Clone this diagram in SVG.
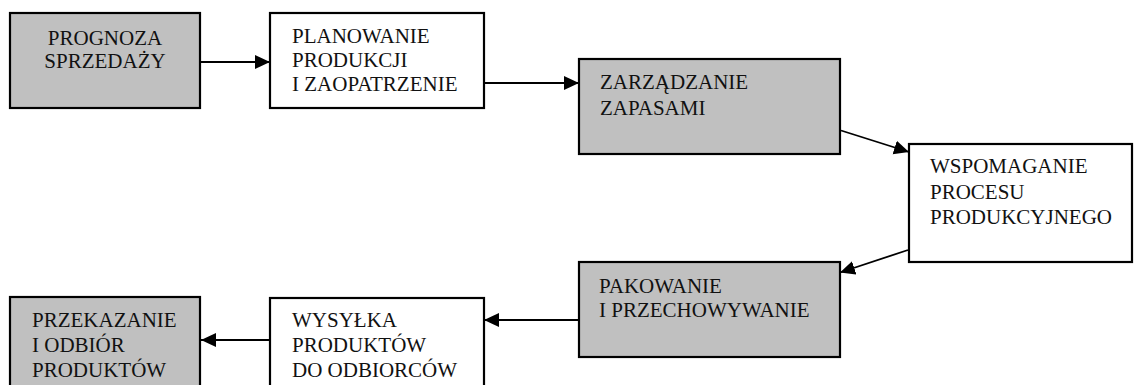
<svg xmlns="http://www.w3.org/2000/svg" width="1135" height="385" viewBox="0 0 1135 385" font-family="'Liberation Serif', 'Times New Roman', serif">
  <style>
    .box { stroke: #000; stroke-width: 2.2; }
    .gray { fill: #c0c0c0; }
    .white { fill: #fff; }
    text { font-family: 'Liberation Serif', 'Times New Roman', serif; font-size: 21px; fill: #111; }
    .conn { stroke: #000; stroke-width: 1.8; fill: none; marker-end: url(#arr); }
  </style>
  <defs>
    <marker id="arr" markerUnits="userSpaceOnUse" markerWidth="16" markerHeight="16" refX="15" refY="8" orient="auto">
      <path d="M0,1 L15,8 L0,15 Z" fill="#000"/>
    </marker>
  </defs>
  <rect width="1135" height="385" fill="#fff"/>

  <g id="connectors">
    <line class="conn" x1="201" y1="62" x2="270" y2="62"/>
    <line class="conn" x1="485" y1="83" x2="579" y2="83"/>
    <line class="conn" x1="841" y1="130.5" x2="909" y2="152"/>
    <line class="conn" x1="908" y1="250" x2="840" y2="272.5"/>
    <line class="conn" x1="578" y1="320" x2="484" y2="320"/>
    <line class="conn" x1="269" y1="340" x2="201" y2="340"/>
  </g>

  <g id="n1">
    <rect class="box gray" x="10" y="13" width="190" height="95"/>
    <text x="105" y="45" text-anchor="middle">PROGNOZA</text>
    <text x="105" y="68" text-anchor="middle">SPRZEDAŻY</text>
  </g>
  <g id="n2">
    <rect class="box white" x="270" y="13" width="214" height="95"/>
    <text x="292" y="43">PLANOWANIE</text>
    <text x="292" y="67">PRODUKCJI</text>
    <text x="292" y="91">I ZAOPATRZENIE</text>
  </g>
  <g id="n3">
    <rect class="box gray" x="579" y="59" width="261" height="95"/>
    <text x="600" y="89">ZARZĄDZANIE</text>
    <text x="600" y="115">ZAPASAMI</text>
  </g>
  <g id="n4">
    <rect class="box white" x="909" y="144" width="223" height="118"/>
    <text x="930" y="173">WSPOMAGANIE</text>
    <text x="930" y="199">PROCESU</text>
    <text x="930" y="224">PRODUKCYJNEGO</text>
  </g>
  <g id="n5">
    <rect class="box gray" x="579" y="262" width="261" height="95"/>
    <text x="599" y="293">PAKOWANIE</text>
    <text x="599" y="317">I PRZECHOWYWANIE</text>
  </g>
  <g id="n6">
    <rect class="box white" x="270" y="298" width="214" height="100"/>
    <text x="292" y="327">WYSYŁKA</text>
    <text x="292" y="352">PRODUKTÓW</text>
    <text x="292" y="377">DO ODBIORCÓW</text>
  </g>
  <g id="n7">
    <rect class="box gray" x="10" y="297" width="190" height="100"/>
    <text x="32" y="327">PRZEKAZANIE</text>
    <text x="32" y="352">I ODBIÓR</text>
    <text x="32" y="377">PRODUKTÓW</text>
  </g>
</svg>
